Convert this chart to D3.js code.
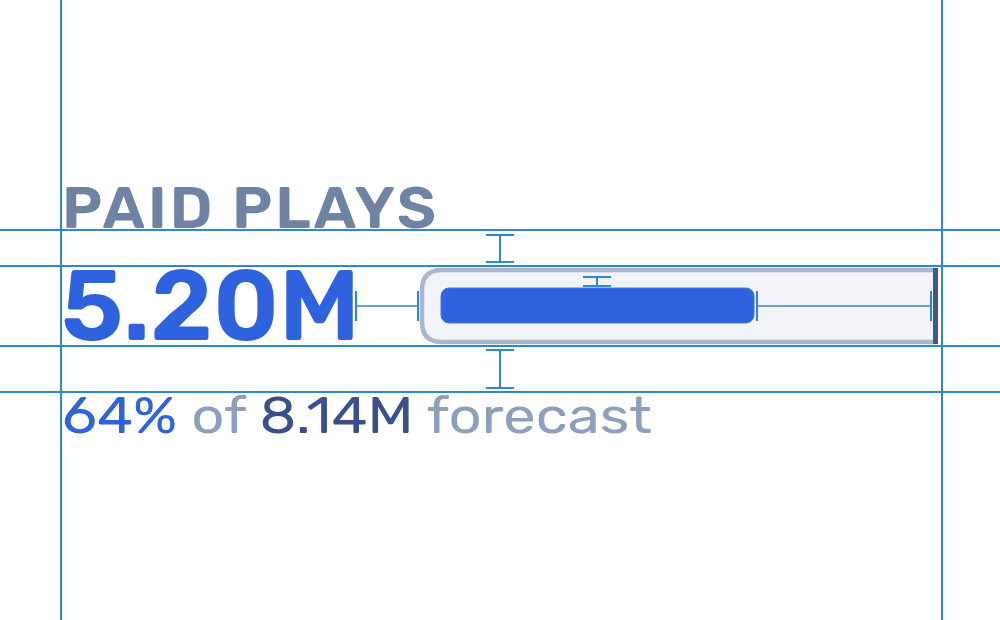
<!DOCTYPE html>
<html><head><meta charset="utf-8">
<script src="https://cdn.jsdelivr.net/npm/d3@7"></script>
<style>html,body{margin:0;padding:0;background:#fff}svg{display:block}</style>
</head><body>
<svg id="c" width="1000" height="620"></svg>
<script>
const label = ["PAID PLAYS"];
const values = [5.20];
const targets = [8.14];
const unit = ["M"];
const subtitleWords = ["of", "forecast"];

const svg = d3.select("#c");
const FONT = "Rubik, Inter, 'Open Sans', sans-serif";
const guide = "#2e87d0";
const value = values[0], target = targets[0];
const pct = Math.round(value / target * 100);

// scale for the bar
const x = d3.scaleLinear().domain([0, target]).range([441, 931]);

// track (left rounded, right square)
const tx0 = 422, tx1 = 936, ty0 = 270, ty1 = 342, r = 20;
svg.append("path")
  .attr("d", `M${tx1},${ty0} L${tx0 + r},${ty0} Q${tx0},${ty0} ${tx0},${ty0 + r} L${tx0},${ty1 - r} Q${tx0},${ty1} ${tx0 + r},${ty1} L${tx1},${ty1}`)
  .attr("fill", "#f1f3f7").attr("stroke", "#abb6ca").attr("stroke-width", 4.5);

// value bar
svg.append("rect")
  .attr("x", x(0)).attr("y", 288).attr("width", x(value) - x(0)).attr("height", 35)
  .attr("rx", 8).attr("fill", "#2f62de").attr("stroke", "#4a76e3").attr("stroke-width", 1);

// target marker
svg.append("rect")
  .attr("x", x(target) + 2).attr("y", 268).attr("width", 5).attr("height", 76)
  .attr("fill", "#3e5a8c");

// texts
svg.append("text").attr("x", 62).attr("y", 228)
  .attr("font-family", FONT).attr("font-weight", 600).attr("font-size", 59)
  .attr("fill", "#6f84a4").attr("letter-spacing", 3)
  .attr("textLength", 377).attr("lengthAdjust", "spacingAndGlyphs")
  .text(label[0]);

svg.append("text").attr("x", 61).attr("y", 340)
  .attr("font-family", FONT).attr("font-weight", 600).attr("font-size", 99)
  .attr("fill", "#2f62de")
  .attr("textLength", 299).attr("lengthAdjust", "spacingAndGlyphs")
  .text(value.toFixed(2) + unit[0]);

const sub = svg.append("text").attr("x", 62).attr("y", 433)
  .attr("font-family", FONT).attr("font-weight", 400).attr("font-size", 50)
  .attr("textLength", 590).attr("lengthAdjust", "spacingAndGlyphs");
sub.append("tspan").attr("fill", "#2f62de").text(pct + "%");
sub.append("tspan").attr("fill", "#8d9fbb").text(" " + subtitleWords[0] + " ");
sub.append("tspan").attr("fill", "#3a4f8c").text(target.toFixed(2) + unit[0]);
sub.append("tspan").attr("fill", "#8d9fbb").text(" " + subtitleWords[1]);

// guide lines
const g = svg.append("g").attr("stroke", guide).attr("stroke-width", 2).attr("fill", "none");
[61, 942].forEach(v => g.append("line").attr("x1", v).attr("x2", v).attr("y1", 0).attr("y2", 620));
[230, 266, 346, 392].forEach(v => g.append("line").attr("x1", 0).attr("x2", 1000).attr("y1", v).attr("y2", v));

// dimension brackets
function hBracket(xa, xb, y, h) {
  g.append("line").attr("x1", xa).attr("x2", xb).attr("y1", y).attr("y2", y).attr("stroke-width", 1.5);
  g.append("line").attr("x1", xa).attr("x2", xa).attr("y1", y - h).attr("y2", y + h);
  g.append("line").attr("x1", xb).attr("x2", xb).attr("y1", y - h).attr("y2", y + h);
}
function vBracket(xc, ya, yb, w) {
  g.append("line").attr("x1", xc).attr("x2", xc).attr("y1", ya).attr("y2", yb);
  g.append("line").attr("x1", xc - w).attr("x2", xc + w).attr("y1", ya).attr("y2", ya);
  g.append("line").attr("x1", xc - w).attr("x2", xc + w).attr("y1", yb).attr("y2", yb);
}
hBracket(356, 418, 306, 15);
hBracket(x(value) + 3, x(target), 306, 15);
vBracket(500, 235, 262, 14);
vBracket(500, 350, 388, 14);
vBracket(597, 277, 286, 14);
</script>
</body></html>
